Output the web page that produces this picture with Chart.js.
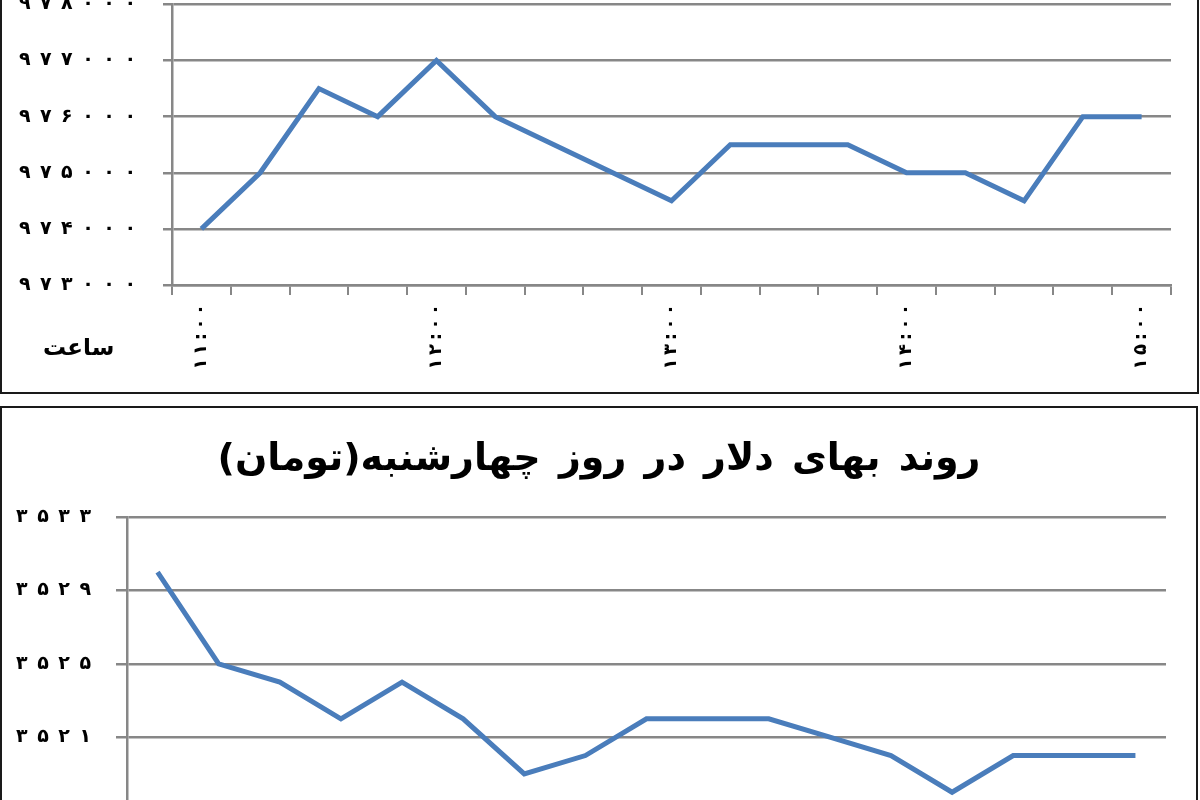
<!DOCTYPE html>
<html>
<head>
<meta charset="utf-8">
<script src="https://cdn.jsdelivr.net/npm/chart.js@4.4.0/dist/chart.umd.min.js"></script>
<style>
  html, body { margin: 0; padding: 0; background: #fff; overflow: hidden; width: 1200px; height: 800px; }
  .box { position: absolute; border: 2px solid #1a1a1a; box-sizing: border-box; background: #fff; overflow: hidden; }
  #topBox { left: 0; top: -36px; width: 1199px; height: 430px; }
  #botBox { left: 0; top: 406px; width: 1198px; height: 600px; }
  canvas { position: absolute; left: 0; top: 0; }
  #hourLbl { position: absolute; left: 43px; top: 334px; font: bold 23px "DejaVu Sans"; color: #000; direction: rtl; }
  #botTitle { position: absolute; left: 0; width: 1194px; top: 27px; text-align: center; font: bold 38px "DejaVu Sans"; word-spacing: 5px; color: #000; direction: rtl; }
</style>
</head>
<body>
<div id="topBox" class="box"><canvas id="c1" width="1195" height="426"></canvas></div>
<div id="hourLbl">ساعت</div>
<div id="botBox" class="box"><canvas id="c2" width="1194" height="596"></canvas><div id="botTitle">روند بهای دلار در روز چهارشنبه(تومان)</div></div>
<script>
// ---- data ----
const timeLabels = ['۱۱:۰۰','۱۱:۱۵','۱۱:۳۰','۱۱:۴۵','۱۲:۰۰','۱۲:۱۵','۱۲:۳۰','۱۲:۴۵','۱۳:۰۰','۱۳:۱۵','۱۳:۳۰','۱۳:۴۵','۱۴:۰۰','۱۴:۱۵','۱۴:۳۰','۱۴:۴۵','۱۵:۰۰'];
const topValues = [974000, 975000, 976500, 976000, 977000, 976000, 975500, 975000, 974500, 975500, 975500, 975500, 975000, 975000, 974500, 976000, 976000];
const topYTicks = [973000, 974000, 975000, 976000, 977000, 978000];
const botLabels = ['۱۱:۰۰','۱۱:۱۵','۱۱:۳۰','۱۱:۴۵','۱۲:۰۰','۱۲:۱۵','۱۲:۳۰','۱۲:۴۵','۱۳:۰۰','۱۳:۱۵','۱۳:۳۰','۱۳:۴۵','۱۴:۰۰','۱۴:۱۵','۱۴:۳۰','۱۴:۴۵','۱۵:۰۰'];
const botValues = [3530, 3525, 3524, 3522, 3524, 3522, 3519, 3520, 3522, 3522, 3522, 3521, 3520, 3518, 3520, 3520, 3520];
const botYTicks = [3513, 3517, 3521, 3525, 3529, 3533];

// ---- helpers ----
const FA = '۰۱۲۳۴۵۶۷۸۹';
function faSpaced(v) {
  return String(v).split('').map(d => FA[+d]).join('\u2002');
}
function thinSpaced(s) {
  return s.split('').join('\u2009');
}
const GRID = '#878787';
const LINE = '#4a7dbb';
const FONT = 'DejaVu Sans';

function makeChart(id, labels, values, yTicks, geo) {
  return new Chart(document.getElementById(id), {
    type: 'line',
    data: {
      labels: labels,
      datasets: [{
        data: values,
        borderColor: LINE,
        borderWidth: 5,
        pointRadius: 0,
        tension: 0,
        fill: false
      }]
    },
    options: {
      responsive: false,
      animation: false,
      devicePixelRatio: 1,
      layout: { padding: { left: 0, right: geo.padRight, top: geo.padTop, bottom: 0 } },
      plugins: { legend: { display: false }, tooltip: { enabled: false }, title: { display: false } },
      scales: {
        x: {
          type: 'category',
          offset: true,
          afterFit: s => { s.height = geo.xHeight; },
          grid: { offset: true, drawOnChartArea: false, drawTicks: true, tickLength: 10, color: GRID, lineWidth: 2 },
          border: { display: true, color: GRID, width: 2.5 },
          ticks: {
            autoSkip: false, maxRotation: 90, minRotation: 90, padding: 9,
            color: '#000', font: { family: FONT, size: 18, weight: 'bold' },
            callback: (v, i) => (i % 4 === 0 ? thinSpaced(labels[i]) : '')
          }
        },
        y: {
          min: yTicks[0], max: yTicks[yTicks.length - 1],
          afterFit: s => { s.width = geo.yWidth; },
          afterBuildTicks: s => { s.ticks = yTicks.map(v => ({ value: v })); },
          grid: { drawTicks: true, tickLength: geo.tickLen, color: GRID, lineWidth: 2.5 },
          border: { display: true, color: GRID, width: 2.5 },
          ticks: {
            padding: geo.yPad, color: '#000',
            font: { family: FONT, size: 19, weight: 'bold' },
            callback: v => faSpaced(v)
          }
        }
      }
    }
  });
}

makeChart('c1', timeLabels, topValues, topYTicks,
  { padRight: 26, padTop: 20, xHeight: 107, yWidth: 170, tickLen: 9, yPad: 27 });
makeChart('c2', botLabels, botValues, botYTicks,
  { padRight: 30, padTop: 109, xHeight: 120, yWidth: 125, tickLen: 11, yPad: 25 });
</script>
</body>
</html>
